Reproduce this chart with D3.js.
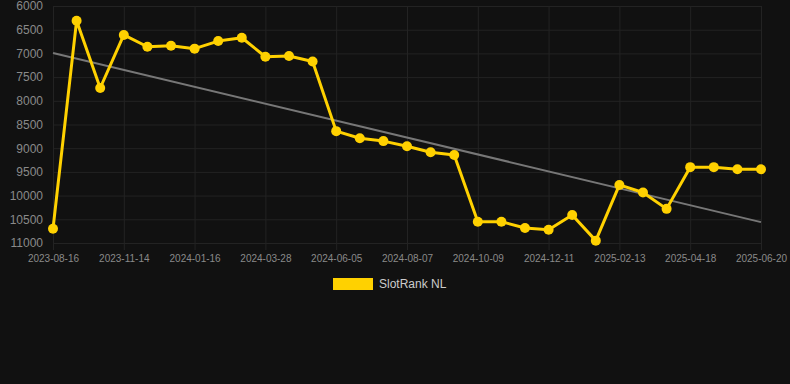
<!DOCTYPE html>
<html>
<head>
<meta charset="utf-8">
<script src="https://cdn.jsdelivr.net/npm/d3@7"></script>
<style>
  html, body { margin: 0; padding: 0; background: #111111; }
  svg { display: block; font-family: "Liberation Sans", Arial, sans-serif; }
</style>
</head>
<body>
<script>
// SlotRank NL over time (lower rank number = better, so y is reversed)

const w = 790;
const h = 384;

const dates = [
  "2023-08-16", "2023-09-15", "2023-10-15", "2023-11-14", "2023-12-05", "2023-12-26",
  "2024-01-16", "2024-02-09", "2024-03-04", "2024-03-28", "2024-04-20", "2024-05-13",
  "2024-06-05", "2024-06-26", "2024-07-17", "2024-08-07", "2024-08-28", "2024-09-18",
  "2024-10-09", "2024-10-30", "2024-11-20", "2024-12-11", "2025-01-01", "2025-01-23",
  "2025-02-13", "2025-03-06", "2025-03-27", "2025-04-18", "2025-05-09", "2025-05-30",
  "2025-06-20"
];

const ranks = [
  10700, 6310, 7730, 6610, 6860, 6840,
  6900, 6740, 6670, 7070, 7055, 7170,
  8640, 8790, 8850, 8960, 9085, 9145,
  10550, 10550, 10685, 10720, 10410, 10950,
  9775, 9935, 10280, 9400, 9400, 9445,
  9445
];

// trend line end values (first date, last date)
const trend = [6990, 10560];

const yTicks = [6000, 6500, 7000, 7500, 8000, 8500, 9000, 9500, 10000, 10500, 11000];
const xTickLabels = dates.filter((d, i) => i % 3 === 0);

const seriesName = "SlotRank NL";
const gold = "#ffd100";

const plotLeft = 53, plotRight = 761, plotTop = 6, plotBottom = 243;

const svg = d3.select("body")
  .append("svg")
  .attr("width", w)
  .attr("height", h);

const x = d3.scalePoint()
  .domain(dates)
  .range([plotLeft, plotRight]);

const y = d3.scaleLinear()
  .domain([6000, 11000])
  .range([plotTop, plotBottom]);

// grid
svg.append("g")
  .selectAll("line")
  .data(yTicks)
  .enter()
  .append("line")
  .attr("x1", plotLeft)
  .attr("x2", plotRight)
  .attr("y1", d => y(d) + 0.5)
  .attr("y2", d => y(d) + 0.5)
  .attr("stroke", "#232323")
  .attr("stroke-width", 1);

svg.append("g")
  .selectAll("line")
  .data(xTickLabels)
  .enter()
  .append("line")
  .attr("x1", d => x(d) + 0.5)
  .attr("x2", d => x(d) + 0.5)
  .attr("y1", plotTop)
  .attr("y2", plotBottom + 7)
  .attr("stroke", "#232323")
  .attr("stroke-width", 1);

// axes (labels only)
const yAxis = d3.axisLeft(y).tickValues(yTicks).tickSize(0).tickPadding(10).tickFormat(d3.format("d"));
const gy = svg.append("g")
  .attr("transform", `translate(${plotLeft},0)`)
  .call(yAxis);
gy.select(".domain").remove();
gy.selectAll("text")
  .attr("fill", "#8a8a8a")
  .style("font-size", "12px");

const xAxis = d3.axisBottom(x).tickValues(xTickLabels).tickSize(0).tickPadding(12);
const gx = svg.append("g")
  .attr("transform", `translate(0,${plotBottom})`)
  .call(xAxis);
gx.select(".domain").remove();
gx.selectAll("text")
  .attr("fill", "#8a8a8a")
  .style("font-size", "10px");

// trend line
svg.append("line")
  .attr("x1", x(dates[0]))
  .attr("y1", y(trend[0]))
  .attr("x2", x(dates[dates.length - 1]))
  .attr("y2", y(trend[1]))
  .attr("stroke", "#777777")
  .attr("stroke-width", 2);

// series
const data = dates.map((d, i) => ({ date: d, rank: ranks[i] }));

const line = d3.line()
  .x(d => x(d.date))
  .y(d => y(d.rank));

svg.append("path")
  .datum(data)
  .attr("d", line)
  .attr("fill", "none")
  .attr("stroke", gold)
  .attr("stroke-width", 3)
  .attr("stroke-linejoin", "round");

svg.selectAll("circle")
  .data(data)
  .enter()
  .append("circle")
  .attr("cx", d => x(d.date))
  .attr("cy", d => y(d.rank))
  .attr("r", 5)
  .attr("fill", gold);

// legend
const legend = svg.append("g").attr("transform", "translate(333,278)");
legend.append("rect")
  .attr("width", 40)
  .attr("height", 12)
  .attr("fill", gold);
legend.append("text")
  .attr("x", 46)
  .attr("y", 6)
  .attr("dy", "0.35em")
  .attr("fill", "#cccccc")
  .style("font-size", "12px")
  .text(seriesName);
</script>
</body>
</html>
